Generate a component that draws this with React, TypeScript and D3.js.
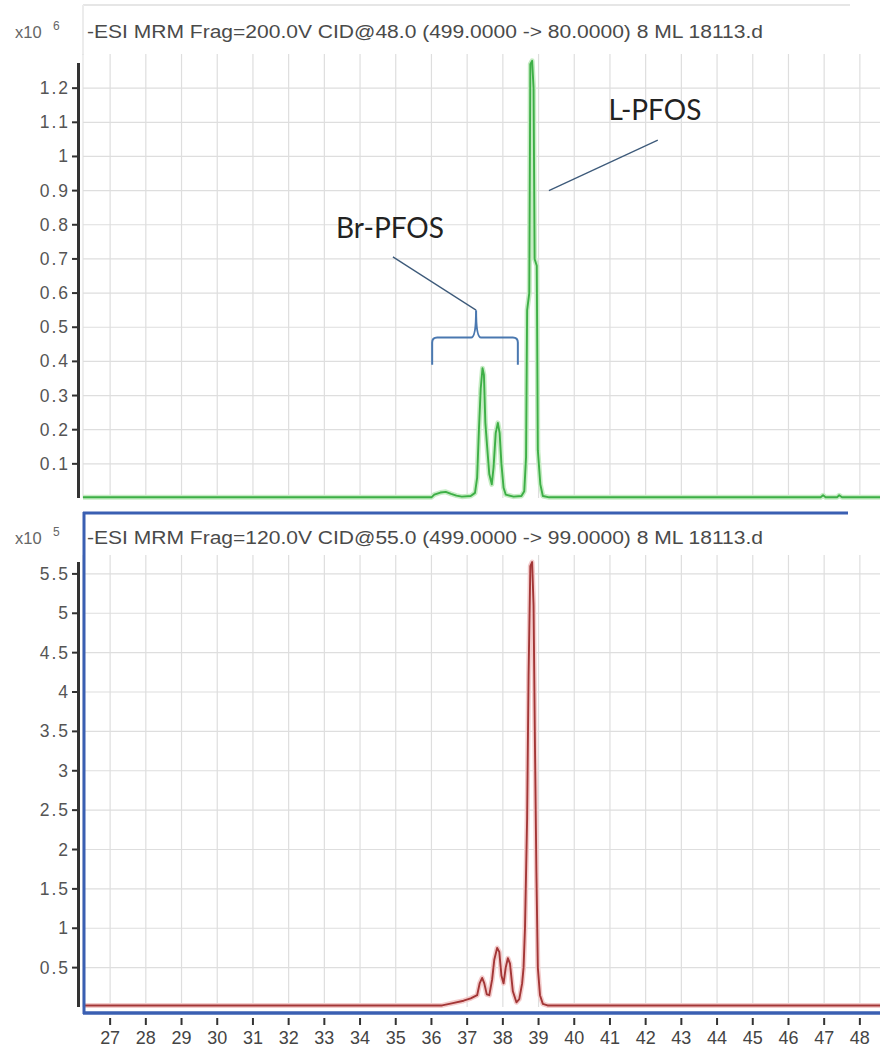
import React from "react";
import * as d3 from "d3";

// ---- data (time in min, intensity in x10^6 / x10^5) ----

const xTicks = [27, 28, 29, 30, 31, 32, 33, 34, 35, 36, 37, 38, 39, 40, 41, 42, 43, 44, 45, 46, 47, 48];

const topTicks = [0.1, 0.2, 0.3, 0.4, 0.5, 0.6, 0.7, 0.8, 0.9, 1, 1.1, 1.2];
const bottomTicks = [0.5, 1, 1.5, 2, 2.5, 3, 3.5, 4, 4.5, 5, 5.5];

const topTitle = "-ESI MRM Frag=200.0V CID@48.0 (499.0000 -> 80.0000) 8 ML 18113.d";
const bottomTitle = "-ESI MRM Frag=120.0V CID@55.0 (499.0000 -> 99.0000) 8 ML 18113.d";

// 499 -> 80 transition (x10^6)
const greenTrace: [number, number][] = [
  [26.24, 0.002], [36.0, 0.002], [36.08, 0.01], [36.25, 0.016], [36.4, 0.018], [36.55, 0.012],
  [36.7, 0.007], [36.85, 0.004], [37.1, 0.006], [37.22, 0.015], [37.28, 0.06], [37.33, 0.2],
  [37.38, 0.32], [37.43, 0.38], [37.47, 0.36], [37.51, 0.22], [37.56, 0.15], [37.62, 0.07],
  [37.69, 0.04], [37.74, 0.09], [37.8, 0.19], [37.86, 0.22], [37.91, 0.19], [37.96, 0.1],
  [38.02, 0.03], [38.08, 0.01], [38.3, 0.004], [38.52, 0.006], [38.6, 0.02], [38.65, 0.12],
  [38.68, 0.55], [38.74, 0.6], [38.77, 1.27], [38.82, 1.28], [38.86, 1.2], [38.89, 0.7],
  [38.95, 0.68], [38.98, 0.14], [39.05, 0.04], [39.12, 0.006], [39.3, 0.002], [46.9, 0.002],
  [46.97, 0.008], [47.04, 0.002], [47.36, 0.002], [47.42, 0.008], [47.5, 0.002], [48.76, 0.002],
];

// 499 -> 99 transition (x10^5)
const redTrace: [number, number][] = [
  [26.24, 0.02], [36.3, 0.02], [36.6, 0.05], [36.9, 0.08], [37.1, 0.11], [37.28, 0.15],
  [37.35, 0.3], [37.42, 0.37], [37.48, 0.3], [37.55, 0.16], [37.62, 0.15], [37.7, 0.35],
  [37.76, 0.6], [37.84, 0.75], [37.9, 0.7], [37.96, 0.4], [38.02, 0.3], [38.08, 0.5],
  [38.14, 0.62], [38.2, 0.55], [38.28, 0.2], [38.38, 0.06], [38.46, 0.1], [38.54, 0.3],
  [38.58, 0.5], [38.62, 1.0], [38.68, 2.4], [38.72, 4.2], [38.77, 5.6], [38.82, 5.65],
  [38.86, 5.1], [38.9, 3.3], [38.94, 1.7], [38.98, 0.5], [39.04, 0.15], [39.12, 0.04],
  [39.25, 0.02], [48.76, 0.02],
];

// ---- layout ----
const W = 880;
const H = 1050;
const plotLeft = 83;

const xScale = d3.scaleLinear().domain([26.24, 48.76]).range([plotLeft, 887]);
const yTop = d3.scaleLinear().domain([0, 1.3]).range([498, 54]);
const yBot = d3.scaleLinear().domain([0, 5.74]).range([1007, 555]);

const labelFont = "'Liberation Sans', Arial, sans-serif";
const noteFont = "Lato, 'Open Sans', sans-serif";

function Panel({ y, ticks, data, color, halo, axisTop, title, titleY, exp }: any) {
  const [y0, y1] = y.range();
  const line = d3
    .line<[number, number]>()
    .x((d) => xScale(d[0]))
    .y((d) => y(d[1]));
  const path = line(data) || "";
  return (
    <g>
      {/* grid */}
      {xTicks.map((t) => (
        <line key={"v" + t} x1={xScale(t)} x2={xScale(t)} y1={y1} y2={y0} stroke="#dedede" strokeWidth={1.2} />
      ))}
      <line x1={plotLeft} x2={plotLeft} y1={y1} y2={y0} stroke="#e2e2e2" strokeWidth={1.2} />
      {ticks.map((t: number) => (
        <line key={"h" + t} x1={plotLeft} x2={W} y1={y(t)} y2={y(t)} stroke="#dedede" strokeWidth={1.2} />
      ))}
      {/* axis */}
      <line x1={78.5} x2={78.5} y1={axisTop} y2={y0} stroke="#333" strokeWidth={3} />
      {ticks.map((t: number) => (
        <g key={"t" + t}>
          <line x1={72} x2={78} y1={y(t)} y2={y(t)} stroke="#333" strokeWidth={2} />
          <text
            x={70}
            y={y(t) + 6}
            textAnchor="end"
            fontFamily={labelFont}
            fontSize={17.5}
            letterSpacing={2}
            fill="#555"
          >
            {String(t)}
          </text>
        </g>
      ))}
      {/* trace */}
      <path d={path} fill="none" stroke={halo} strokeWidth={5} strokeLinejoin="round" />
      <path d={path} fill="none" stroke={color} strokeWidth={1.9} strokeLinejoin="round" />
      {/* header */}
      <text x={15} y={titleY} fontFamily={labelFont} fontSize={16.5} fill="#666">
        x10
      </text>
      <text x={53} y={titleY - 8} fontFamily={labelFont} fontSize={12} fill="#666">
        {exp}
      </text>
      <text x={87} y={titleY} fontFamily={labelFont} fontSize={17.5} fill="#4a4a4a" textLength={676} lengthAdjust="spacingAndGlyphs">
        {title}
      </text>
    </g>
  );
}

export default function App() {
  // brace under Br-PFOS, in data units of the upper panel
  const bx0 = xScale(36.02);
  const bx1 = xScale(38.42);
  const bxm = xScale(37.25);
  const byEnd = yTop(0.39);
  const byBar = yTop(0.47);
  const byTip = yTop(0.55);
  const brace = `M${bx0},${byEnd} L${bx0},${byBar + 5} Q${bx0},${byBar} ${bx0 + 5},${byBar} L${bxm - 5},${byBar} Q${bxm},${byBar} ${bxm},${byTip} Q${bxm},${byBar} ${bxm + 5},${byBar} L${bx1 - 5},${byBar} Q${bx1},${byBar} ${bx1},${byBar + 5} L${bx1},${byEnd}`;

  return (
    <svg
      width={W}
      height={H}
      style={{ position: "absolute", left: 0, top: 0, background: "#fff" }}
    >
      <defs>
        <clipPath id="clip">
          <rect x={0} y={0} width={W} height={H} />
        </clipPath>
      </defs>
      {/* faint frame of upper panel */}
      <line x1={plotLeft} x2={850} y1={5} y2={5} stroke="#e6e6e6" strokeWidth={2} />
      <line x1={plotLeft} x2={plotLeft} y1={5} y2={55} stroke="#ececec" strokeWidth={2} />

      <g clipPath="url(#clip)">
        <Panel
          y={yTop}
          ticks={topTicks}
          data={greenTrace}
          color="#3daf46"
          halo="#c6ecc4"
          axisTop={63}
          title={topTitle}
          titleY={38}
          exp="6"
        />
        <Panel
          y={yBot}
          ticks={bottomTicks}
          data={redTrace}
          color="#a33636"
          halo="#f3cccc"
          axisTop={562}
          title={bottomTitle}
          titleY={544}
          exp="5"
        />
      </g>

      {/* selected (blue) frame of lower panel */}
      <line x1={plotLeft} x2={848} y1={513} y2={513} stroke="#3a5fb2" strokeWidth={3} />
      <line x1={84} x2={84} y1={512} y2={1014} stroke="#3a5fb2" strokeWidth={3} />
      <line x1={plotLeft} x2={W} y1={1013} y2={1013} stroke="#3a5fb2" strokeWidth={3.5} />

      {/* x axis */}
      {xTicks.map((t) => (
        <g key={"x" + t}>
          <line x1={xScale(t)} x2={xScale(t)} y1={1018} y2={1025} stroke="#333" strokeWidth={2} />
          <text
            x={xScale(t)}
            y={1044}
            textAnchor="middle"
            fontFamily={labelFont}
            fontSize={19}
            fill="#444"
            textLength={20}
            lengthAdjust="spacingAndGlyphs"
          >
            {String(t)}
          </text>
        </g>
      ))}

      {/* annotations */}
      <text x={xScale(42.26)} y={yTop(1.136) + 10} textAnchor="middle" fontFamily={noteFont} fontSize={28} fill="#222">
        L-PFOS
      </text>
      <line
        x1={xScale(42.34)}
        y1={yTop(1.048)}
        x2={xScale(39.29)}
        y2={yTop(0.9)}
        stroke="#3d5a7a"
        strokeWidth={1.3}
      />
      <text x={xScale(34.84)} y={yTop(0.79) + 10} textAnchor="middle" fontFamily={noteFont} fontSize={28} fill="#222">
        Br-PFOS
      </text>
      <line
        x1={xScale(34.92)}
        y1={yTop(0.706)}
        x2={bxm}
        y2={byTip}
        stroke="#3d5a7a"
        strokeWidth={1.3}
      />
      <path d={brace} fill="none" stroke="#4a78b0" strokeWidth={2} />
    </svg>
  );
}
